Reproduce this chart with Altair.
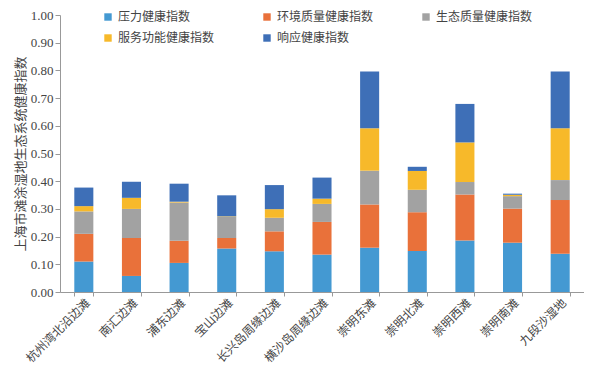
import altair as alt
import pandas as pd

categories = ["杭州湾北沿边滩", "南汇边滩", "浦东边滩", "宝山边滩", "长兴岛周缘边滩",
              "横沙岛周缘边滩", "崇明东滩", "崇明北滩", "崇明西滩", "崇明南滩", "九段沙湿地"]
series_names = ["压力健康指数", "环境质量健康指数", "生态质量健康指数", "服务功能健康指数", "响应健康指数"]
pressure = [0.110, 0.058, 0.105, 0.157, 0.147, 0.135, 0.160, 0.148, 0.186, 0.178, 0.138]
environment = [0.100, 0.137, 0.080, 0.038, 0.072, 0.118, 0.156, 0.140, 0.166, 0.123, 0.194]
ecology = [0.081, 0.105, 0.138, 0.076, 0.049, 0.065, 0.122, 0.081, 0.045, 0.045, 0.072]
service = [0.019, 0.040, 0.003, 0.002, 0.031, 0.019, 0.153, 0.068, 0.143, 0.005, 0.187]
response = [0.067, 0.058, 0.065, 0.076, 0.087, 0.076, 0.205, 0.015, 0.139, 0.004, 0.205]
colors = ["#4499D2", "#E9713A", "#A2A2A2", "#F7B92A", "#3E6FB7"]

all_series = [pressure, environment, ecology, service, response]
rows = []
for si, (name, vals) in enumerate(zip(series_names, all_series)):
    for c, v in zip(categories, vals):
        rows.append({"区域": c, "指标": name, "值": v, "序": si})
df = pd.DataFrame(rows)

serif = "Liberation Serif"
cjk = "Noto Sans CJK SC"

chart = alt.Chart(df).mark_bar().encode(
    x=alt.X("区域:N", sort=categories,
            scale=alt.Scale(paddingInner=0.6, paddingOuter=0.3),
            axis=alt.Axis(title=None, labelAngle=-45, labelFont=cjk, labelFontSize=12,
                          labelColor="#444", tickBand="extent", domainColor="#999",
                          tickColor="#999", tickSize=4, labelPadding=1)),
    y=alt.Y("值:Q", stack="zero",
            scale=alt.Scale(domain=[0, 1]),
            axis=alt.Axis(title="上海市滩涂湿地生态系统健康指数", format=".2f",
                          values=[i / 10 for i in range(11)], grid=False,
                          labelFont=serif, labelFontSize=13, labelColor="#444",
                          titleFont=cjk, titleFontSize=13, titleFontWeight="normal",
                          titleColor="#444", titlePadding=3, domainColor="#999",
                          tickColor="#999", tickSize=5)),
    color=alt.Color("指标:N", sort=series_names,
                    scale=alt.Scale(domain=series_names, range=colors),
                    legend=alt.Legend(title=None, orient="none", legendX=42, legendY=-4,
                                      direction="horizontal",
                                      columns=3, columnPadding=46, rowPadding=9,
                                      symbolType="square", symbolSize=55,
                                      labelFont=cjk, labelFontSize=12, labelColor="#444",
                                      symbolStrokeWidth=0)),
    order=alt.Order("序:Q", sort="ascending"),
).properties(
    width=524, height=277,
    autosize=alt.AutoSizeParams(type="none"),
    padding={"left": 52, "top": 7, "right": 0, "bottom": 73},
).configure_view(stroke=None)

chart.save("out.html", embed_options={"renderer": "svg", "actions": False})
